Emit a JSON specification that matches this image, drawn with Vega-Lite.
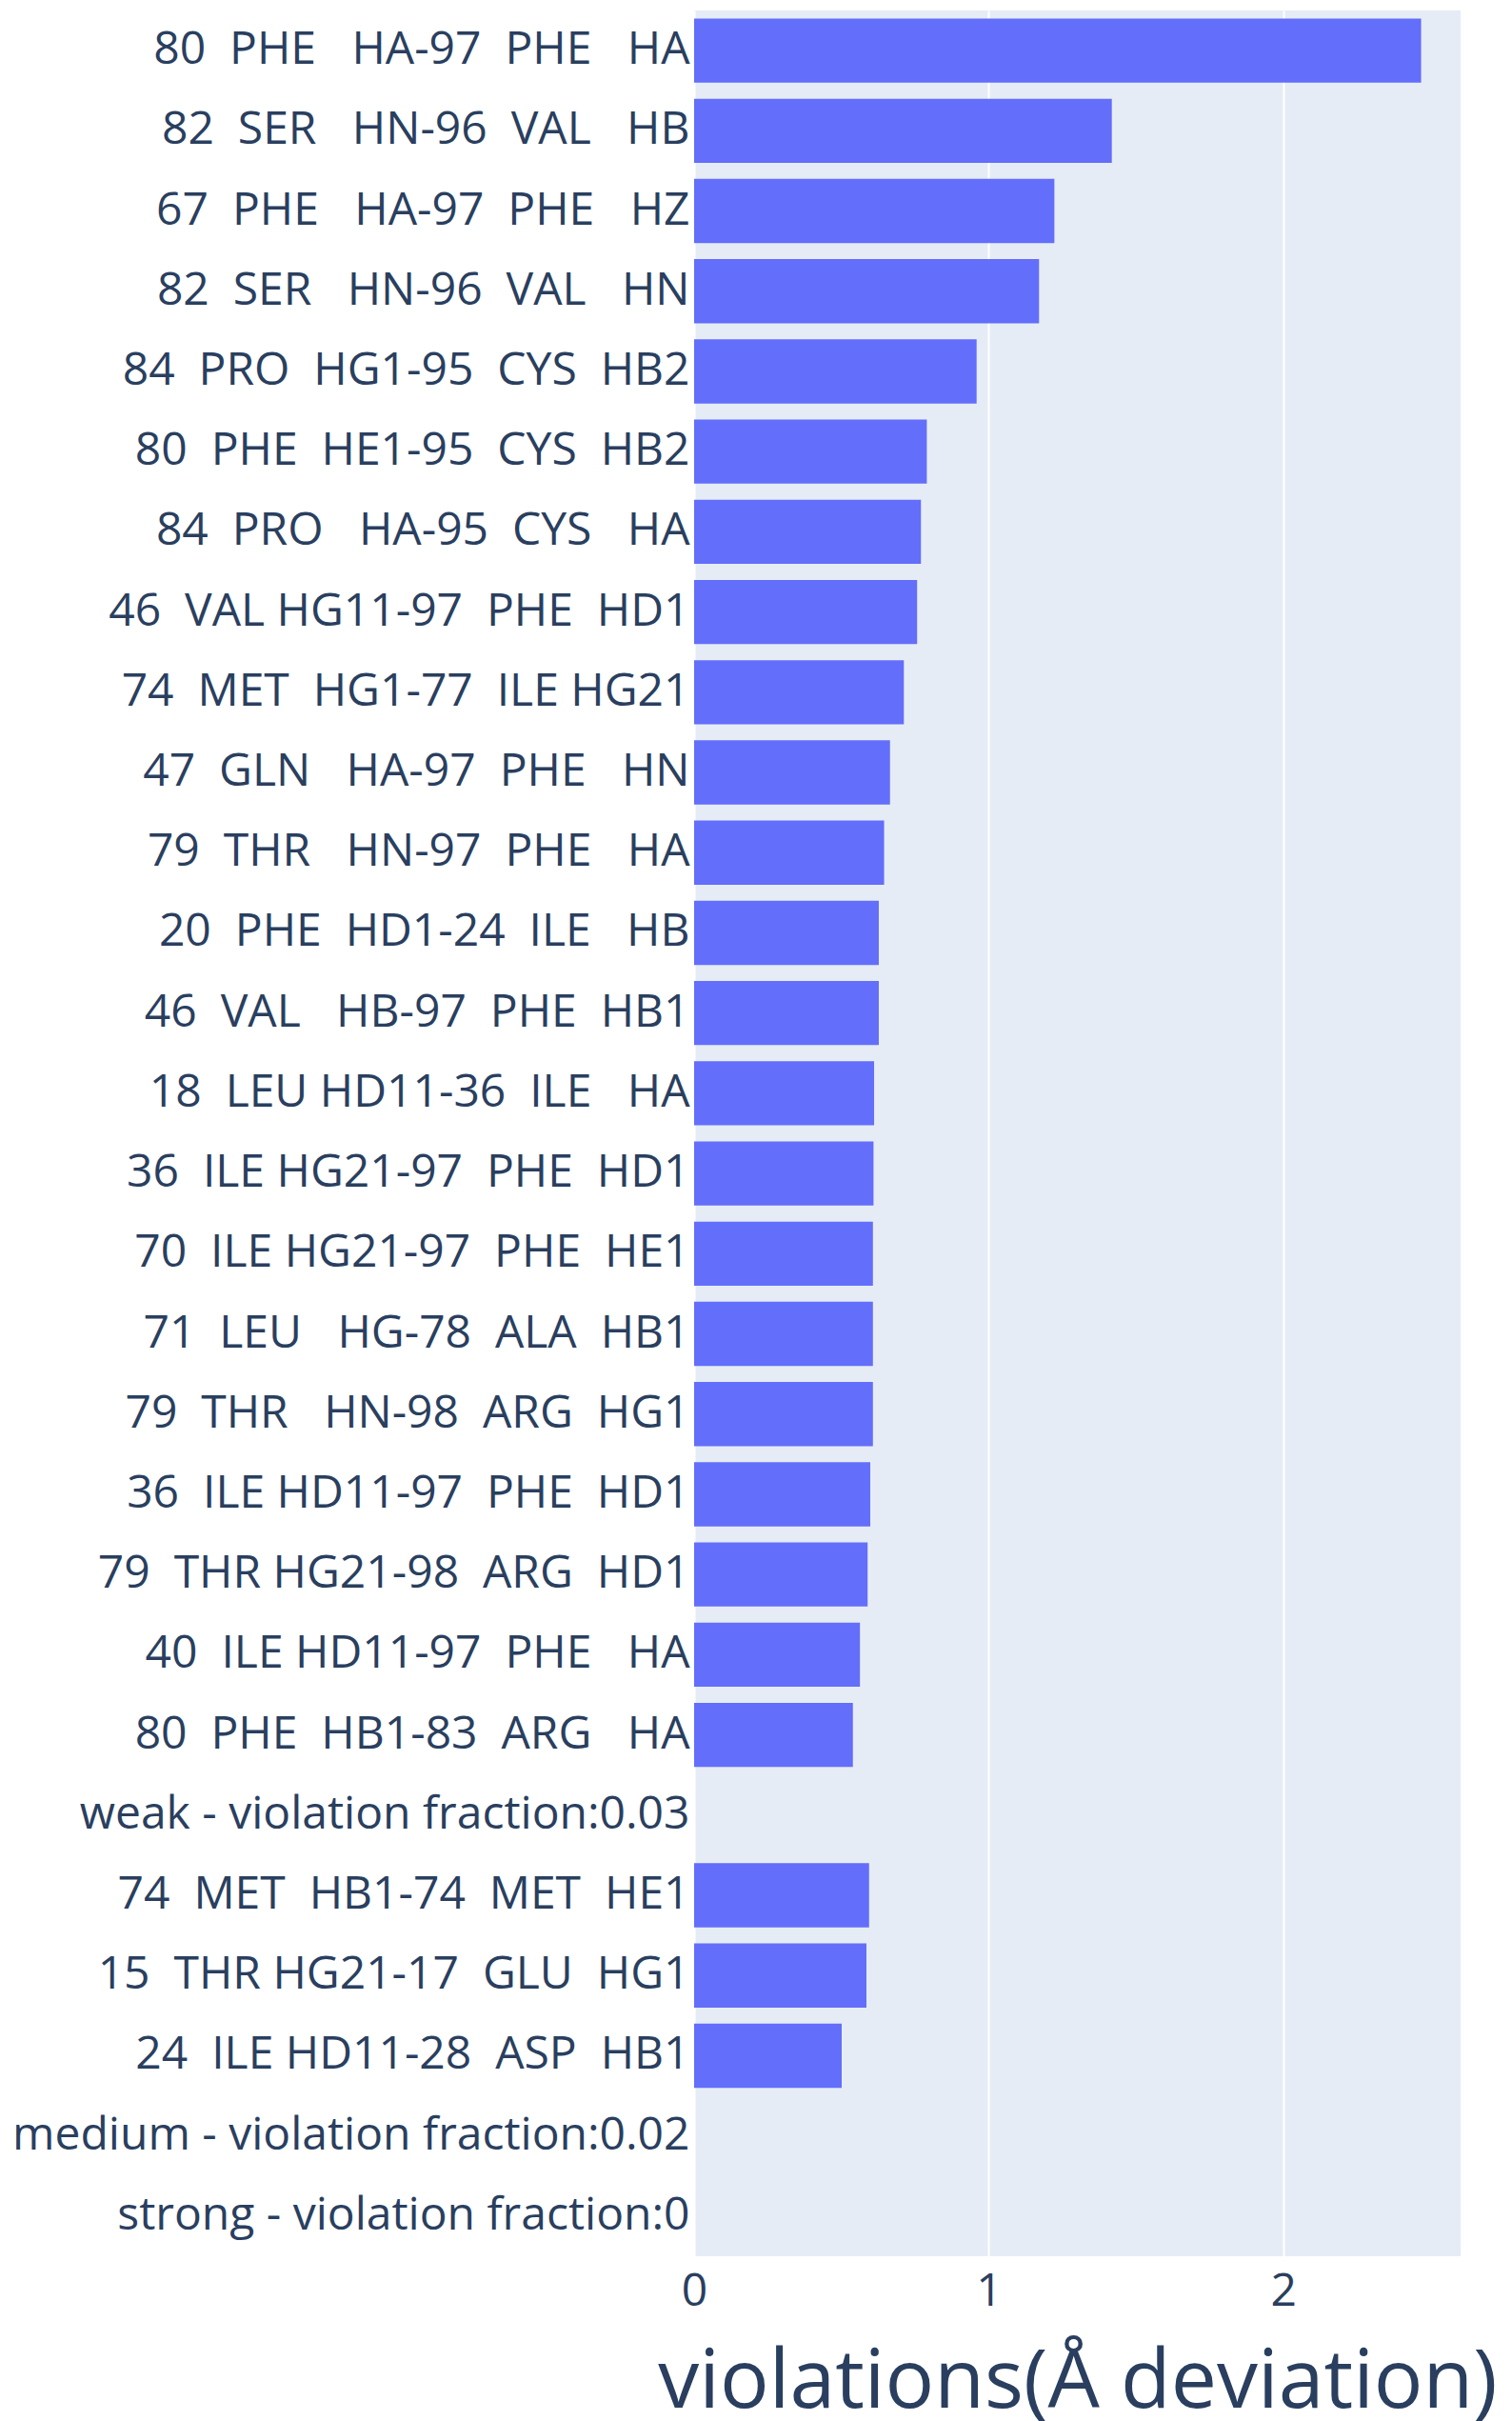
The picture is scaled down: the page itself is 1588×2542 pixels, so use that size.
{
  "$schema": "https://vega.github.io/schema/vega-lite/v6.json",
  "width": 805,
  "height": 2358,
  "autosize": {"type": "none"},
  "padding": {"left": 729, "top": 11, "right": 54, "bottom": 173},
  "background": "white",
  "config": {"view": {"fill": "#e5ecf6", "stroke": null}, "font": "Open Sans"},
  "data": {
    "values": [
      {"constraint": "80  PHE   HA-97  PHE   HA", "violation": 2.468},
      {"constraint": "82  SER   HN-96  VAL   HB", "violation": 1.418},
      {"constraint": "67  PHE   HA-97  PHE   HZ", "violation": 1.223},
      {"constraint": "82  SER   HN-96  VAL   HN", "violation": 1.171},
      {"constraint": "84  PRO  HG1-95  CYS  HB2", "violation": 0.959},
      {"constraint": "80  PHE  HE1-95  CYS  HB2", "violation": 0.79},
      {"constraint": "84  PRO   HA-95  CYS   HA", "violation": 0.77},
      {"constraint": "46  VAL HG11-97  PHE  HD1", "violation": 0.757},
      {"constraint": "74  MET  HG1-77  ILE HG21", "violation": 0.712},
      {"constraint": "47  GLN   HA-97  PHE   HN", "violation": 0.665},
      {"constraint": "79  THR   HN-97  PHE   HA", "violation": 0.645},
      {"constraint": "20  PHE  HD1-24  ILE   HB", "violation": 0.627},
      {"constraint": "46  VAL   HB-97  PHE  HB1", "violation": 0.627},
      {"constraint": "18  LEU HD11-36  ILE   HA", "violation": 0.611},
      {"constraint": "36  ILE HG21-97  PHE  HD1", "violation": 0.609},
      {"constraint": "70  ILE HG21-97  PHE  HE1", "violation": 0.607},
      {"constraint": "71  LEU   HG-78  ALA  HB1", "violation": 0.607},
      {"constraint": "79  THR   HN-98  ARG  HG1", "violation": 0.607},
      {"constraint": "36  ILE HD11-97  PHE  HD1", "violation": 0.598},
      {"constraint": "79  THR HG21-98  ARG  HD1", "violation": 0.589},
      {"constraint": "40  ILE HD11-97  PHE   HA", "violation": 0.563},
      {"constraint": "80  PHE  HB1-83  ARG   HA", "violation": 0.539},
      {"constraint": "weak - violation fraction:0.03", "violation": 0},
      {"constraint": "74  MET  HB1-74  MET  HE1", "violation": 0.594},
      {"constraint": "15  THR HG21-17  GLU  HG1", "violation": 0.585},
      {"constraint": "24  ILE HD11-28  ASP  HB1", "violation": 0.501},
      {"constraint": "medium - violation fraction:0.02", "violation": 0},
      {"constraint": "strong - violation fraction:0", "violation": 0}
    ]
  },
  "mark": {"type": "bar", "color": "#636efa"},
  "encoding": {
    "y": {
      "field": "constraint",
      "type": "nominal",
      "sort": null,
      "scale": {"paddingInner": 0.2, "paddingOuter": 0.1},
      "axis": {
        "title": null,
        "ticks": false,
        "domain": false,
        "grid": false,
        "labelFont": "Open Sans",
        "labelFontSize": 48,
        "labelColor": "#2a3f5f",
        "labelPadding": 5,
        "labelLimit": 2000,
        "labelExpr": "replace(datum.label, regexp(' ', 'g'), '\u00a0')"
      }
    },
    "x": {
      "field": "violation",
      "type": "quantitative",
      "scale": {"domain": [0, 2.602], "nice": false},
      "axis": {
        "title": "violations(Å deviation)",
        "values": [0, 1, 2],
        "grid": true,
        "gridColor": "white",
        "gridWidth": 2,
        "ticks": false,
        "domain": false,
        "labelFlush": false,
        "labelFont": "Open Sans",
        "labelFontSize": 48,
        "labelColor": "#2a3f5f",
        "labelPadding": 13,
        "titleFont": "Open Sans",
        "titleFontSize": 86,
        "titleColor": "#2a3f5f",
        "titleFontWeight": "normal",
        "titleBaseline": "alphabetic",
        "titleAlign": "center",
        "titleX": 402.5,
        "titleY": 158
      }
    }
  }
}
